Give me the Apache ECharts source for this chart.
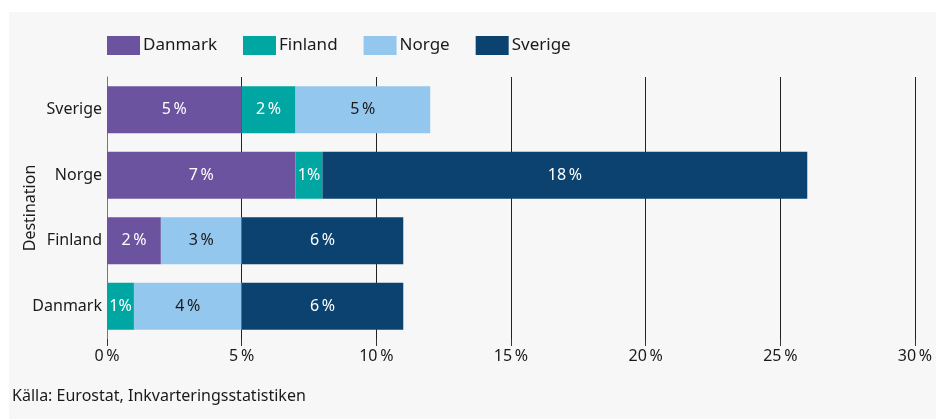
<!DOCTYPE html>
<html>
<head>
<meta charset="utf-8">
<script src="https://cdn.jsdelivr.net/npm/echarts@6/dist/echarts.min.js"></script>
<style>
  html, body { margin: 0; padding: 0; background: #ffffff; }
  #chart { width: 936px; height: 419px; }
</style>
</head>
<body>
<div id="chart"></div>
<script>
// Destination countries (bottom to top on the category axis)
const destinations = ['Danmark', 'Finland', 'Norge', 'Sverige'];

// Share of overnight stays by origin country, per destination (percent)
const fromDanmark = [0, 2, 7, 5];
const fromFinland = [1, 0, 1, 2];
const fromNorge   = [4, 3, 0, 5];
const fromSverige = [6, 6, 18, 0];

const seriesNames = ['Danmark', 'Finland', 'Norge', 'Sverige'];
const seriesColors = ['#6b539f', '#00a6a1', '#94c7ee', '#0b4270'];
const labelColors = ['#ffffff', '#ffffff', '#1a1a1a', '#ffffff'];
const seriesData = [fromDanmark, fromFinland, fromNorge, fromSverige];

const FONT = '"Noto Sans", sans-serif';
const FS = 16;
const pct = v => (v === 1 ? '1%' : v + '\u2009%');

const chart = echarts.init(document.getElementById('chart'), null, { renderer: 'canvas' });

chart.setOption({
  backgroundColor: '#ffffff',
  textStyle: { fontFamily: FONT },
  animation: false,
  graphic: [
    {
      type: 'rect',
      z: -10,
      shape: { x: 9, y: 12, width: 927, height: 407 },
      style: { fill: '#f7f7f7' },
      silent: true
    },
    {
      type: 'text',
      left: 12,
      top: 388,
      style: {
        text: 'Källa: Eurostat, Inkvarteringsstatistiken',
        font: FS + 'px "Noto Sans", sans-serif',
        fill: '#1a1a1a'
      }
    }
  ],
  legend: {
    left: 107,
    top: 36,
    padding: 0,
    itemWidth: 33,
    itemHeight: 19,
    itemGap: 26,
    itemStyle: { borderWidth: 0 },
    textStyle: { fontSize: 17, color: '#1a1a1a', fontFamily: FONT, padding: [0, 0, 0, -2] },
    data: seriesNames.map(n => ({ name: n, icon: 'rect' }))
  },
  grid: { left: 107, right: 21, top: 77, bottom: 80, containLabel: false, outerBoundsMode: 'none' },
  xAxis: {
    type: 'value',
    min: 0,
    max: 30,
    interval: 5,
    axisLine: { show: false },
    axisTick: { show: true, length: 7, lineStyle: { color: '#333333', width: 1 } },
    axisLabel: {
      formatter: v => v + '\u2009%',
      fontSize: FS,
      color: '#1a1a1a',
      margin: 9,
      fontFamily: FONT
    },
    splitLine: { show: true, lineStyle: { color: '#222222', width: 1 } }
  },
  yAxis: {
    type: 'category',
    data: destinations,
    name: 'Destination',
    nameLocation: 'middle',
    nameGap: 69,
    nameMoveOverlap: false,
    nameTextStyle: { fontSize: FS, color: '#1a1a1a', fontFamily: FONT },
    axisLine: { show: true, lineStyle: { color: '#777777', width: 1 } },
    axisTick: { show: false },
    axisLabel: { fontSize: FS, color: '#1a1a1a', margin: 5, fontFamily: FONT }
  },
  series: seriesData.map((d, i) => ({
    name: seriesNames[i],
    type: 'bar',
    stack: 'total',
    barCategoryGap: '28%',
    itemStyle: { color: seriesColors[i] },
    label: {
      show: true,
      position: 'inside',
      color: labelColors[i],
      fontSize: FS,
      fontFamily: FONT,
      formatter: p => (p.value > 0 ? pct(p.value) : '')
    },
    data: d.map(v => (v > 0 ? v : null))
  }))
});
</script>
</body>
</html>
